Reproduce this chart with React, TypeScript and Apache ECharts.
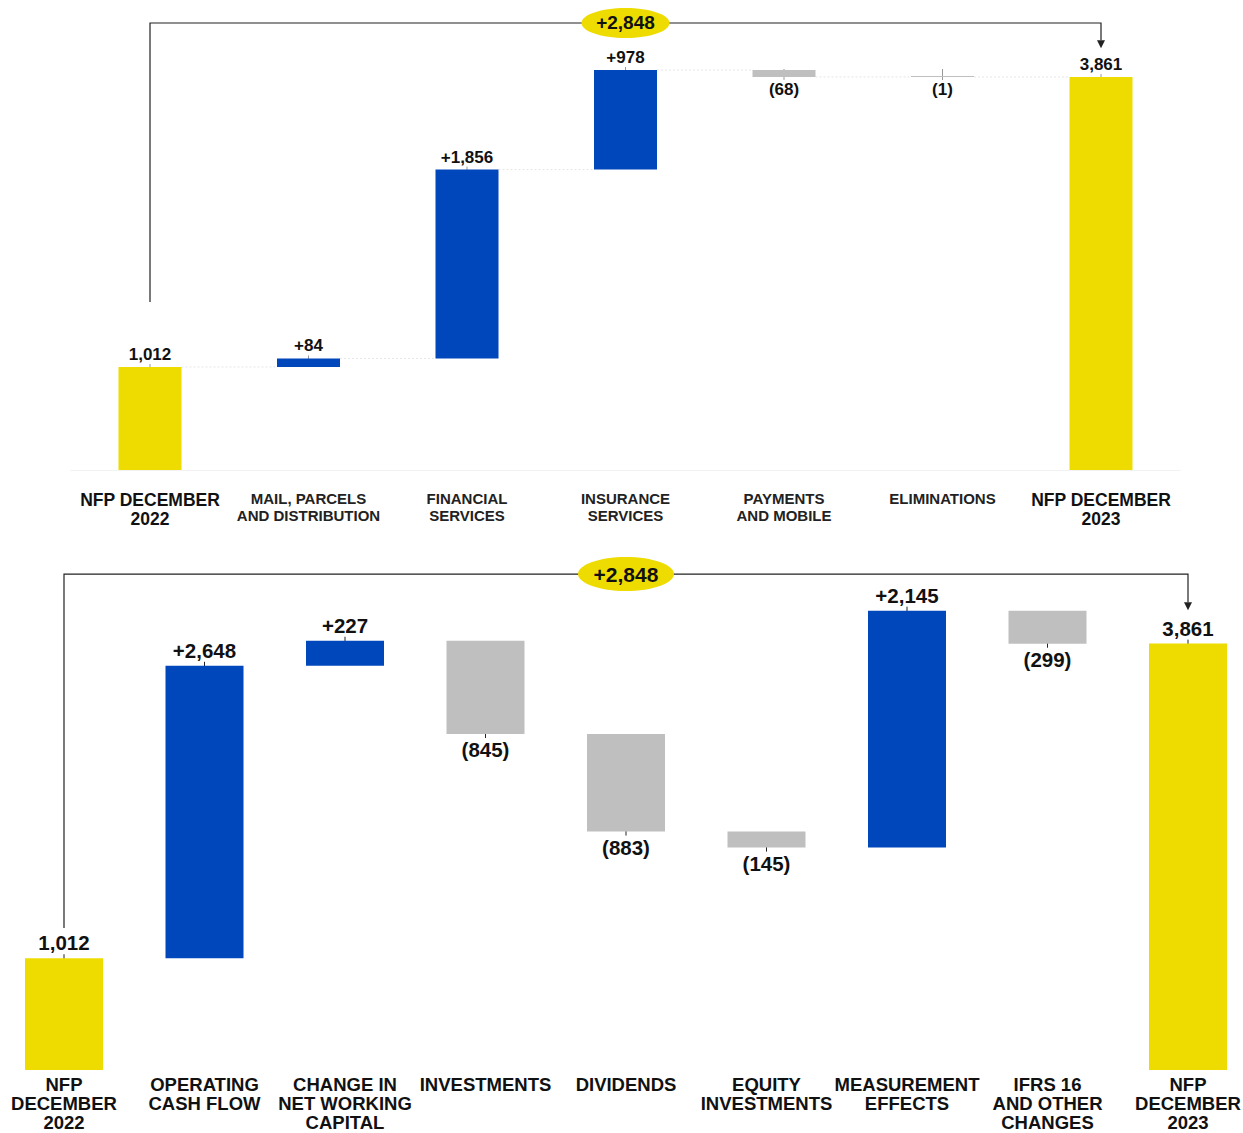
import React, { useEffect, useRef } from "react";
import * as echarts from "echarts";

// ---------- DATA ----------
const topCategories = [
  "NFP DECEMBER\n2022",
  "MAIL, PARCELS\nAND DISTRIBUTION",
  "FINANCIAL\nSERVICES",
  "INSURANCE\nSERVICES",
  "PAYMENTS\nAND MOBILE",
  "ELIMINATIONS",
  "NFP DECEMBER\n2023",
];
const topValues = [1012, 84, 1856, 978, -68, -1, 3861];
const topIsTotal = [true, false, false, false, false, false, true];
const topChangeLabel = "+2,848";

const bottomCategories = [
  "NFP\nDECEMBER\n2022",
  "OPERATING\nCASH FLOW",
  "CHANGE IN\nNET WORKING\nCAPITAL",
  "INVESTMENTS",
  "DIVIDENDS",
  "EQUITY\nINVESTMENTS",
  "MEASUREMENT\nEFFECTS",
  "IFRS 16\nAND OTHER\nCHANGES",
  "NFP\nDECEMBER\n2023",
];
const bottomValues = [1012, 2648, 227, -845, -883, -145, 2145, -299, 3861];
const bottomIsTotal = [true, false, false, false, false, false, false, false, true];
const bottomChangeLabel = "+2,848";

// ---------- STYLE ----------
const YELLOW = "#EEDC00";
const BLUE = "#0047BB";
const GREY = "#BFBFBF";
const FONT = "'Liberation Sans', Arial, sans-serif";
const PAD = 40; // chart canvas extends beyond the visible page on both sides

function waterfall(values: number[], isTotal: boolean[]) {
  let running = 0;
  const low: number[] = [];
  const high: number[] = [];
  const ends: number[] = [];
  values.forEach((v, i) => {
    if (isTotal[i]) {
      low.push(0);
      high.push(v);
      running = v;
    } else {
      const s = running;
      const e = running + v;
      low.push(Math.min(s, e));
      high.push(Math.max(s, e));
      running = e;
    }
    ends.push(running);
  });
  return { low, high, ends };
}

function fmt(v: number, total: boolean) {
  const s = Math.abs(v).toLocaleString("en-US");
  if (total) return s;
  return v >= 0 ? "+" + s : "(" + s + ")";
}

function colorOf(v: number, total: boolean) {
  if (total) return YELLOW;
  return v >= 0 ? BLUE : GREY;
}

type ChartCfg = {
  idx: number;
  values: number[];
  isTotal: boolean[];
  barWidth: number;
  labelSize: number;
  labelDist: number;
  tickUp: number;
  tickDown: number;
  tickColor: string;
  changeLabel: string;
  bracketStart: number;
  bracketTop: number;
  arrowTip: number;
  ellRx: number;
  ellRy: number;
  ellFont: number;
  connectors: boolean;
};

function buildSeries(c: ChartCfg) {
  const { low, high, ends } = waterfall(c.values, c.isTotal);
  const n = c.values.length;
  const series: any[] = [];
  series.push({
    type: "bar",
    xAxisIndex: c.idx,
    yAxisIndex: c.idx,
    stack: "s" + c.idx,
    barWidth: c.barWidth,
    itemStyle: { color: "transparent" },
    silent: true,
    data: low,
  });
  series.push({
    type: "bar",
    xAxisIndex: c.idx,
    yAxisIndex: c.idx,
    stack: "s" + c.idx,
    barWidth: c.barWidth,
    barMinHeight: 1,
    data: c.values.map((v, i) => ({
      value: high[i] - low[i],
      itemStyle: { color: colorOf(v, c.isTotal[i]) },
      label: {
        show: true,
        position: v < 0 && !c.isTotal[i] ? "bottom" : "top",
        distance: c.labelDist,
        formatter: () => fmt(v, c.isTotal[i]),
        fontFamily: FONT,
        fontWeight: "bold",
        fontSize: c.labelSize,
        color: "#111",
      },
    })),
  });
  // small leader ticks at the labelled edge
  series.push({
    type: "custom",
    xAxisIndex: c.idx,
    yAxisIndex: c.idx,
    clip: false,
    silent: true,
    data: c.values.map((v, i) => {
      const neg = v < 0 && !c.isTotal[i];
      return [i, neg ? low[i] : high[i], neg ? -1 : 1];
    }),
    renderItem: (params: any, api: any) => {
      const p = api.coord([api.value(0), api.value(1)]);
      const dir = api.value(2);
      const y1 = dir > 0 ? p[1] - c.tickUp : p[1] - c.tickDown;
      const y2 = dir > 0 ? p[1] + c.tickDown : p[1] + c.tickUp;
      return {
        type: "line",
        shape: { x1: p[0], y1, x2: p[0], y2 },
        style: { stroke: c.tickColor, lineWidth: 1 },
      };
    },
  });
  if (c.connectors) {
    series.push({
      type: "custom",
      xAxisIndex: c.idx,
      yAxisIndex: c.idx,
      clip: false,
      silent: true,
      data: ends.slice(0, n - 1).map((e, i) => [i, e]),
      renderItem: (params: any, api: any) => {
        const i = api.value(0);
        const e = api.value(1);
        const p1 = api.coord([i, e]);
        const p2 = api.coord([i + 1, e]);
        return {
          type: "line",
          shape: { x1: p1[0] + c.barWidth / 2, y1: p1[1], x2: p2[0] - c.barWidth / 2, y2: p2[1] },
          style: { stroke: "#e6e6e6", lineWidth: 1, lineDash: [2, 2] },
        };
      },
    });
  }
  // bracket with total change
  series.push({
    type: "custom",
    xAxisIndex: c.idx,
    yAxisIndex: c.idx,
    clip: false,
    silent: true,
    data: [[0, c.bracketStart]],
    renderItem: (params: any, api: any) => {
      const pStart = api.coord([0, c.bracketStart]);
      const pTL = api.coord([0, c.bracketTop]);
      const pTR = api.coord([n - 1, c.bracketTop]);
      const pTip = api.coord([n - 1, c.arrowTip]);
      const head = 8;
      const midX = (pTL[0] + pTR[0]) / 2;
      return {
        type: "group",
        children: [
          {
            type: "polyline",
            shape: { points: [pStart, pTL, pTR, [pTR[0], pTip[1] - head]] },
            style: { stroke: "#222", lineWidth: 1.2, fill: null },
          },
          {
            type: "polygon",
            shape: {
              points: [
                [pTip[0] - 4, pTip[1] - head],
                [pTip[0] + 4, pTip[1] - head],
                [pTip[0], pTip[1]],
              ],
            },
            style: { fill: "#222" },
          },
          {
            type: "ellipse",
            shape: { cx: midX, cy: pTL[1], rx: c.ellRx, ry: c.ellRy },
            style: { fill: YELLOW },
          },
          {
            type: "text",
            x: midX,
            y: pTL[1],
            style: {
              text: c.changeLabel,
              fontFamily: FONT,
              fontWeight: "bold",
              fontSize: c.ellFont,
              fill: "#111",
              align: "center",
              verticalAlign: "middle",
            },
          },
        ],
      };
    },
  });
  return series;
}

export default function App() {
  const ref = useRef<HTMLDivElement>(null);
  useEffect(() => {
    if (!ref.current) return;
    const chart = echarts.init(ref.current, null, { renderer: "svg" });

    const topSeries = buildSeries({
      idx: 0,
      values: topValues,
      isTotal: topIsTotal,
      barWidth: 63,
      labelSize: 17,
      labelDist: 4,
      tickUp: 3,
      tickDown: 8,
      tickColor: "#999",
      changeLabel: topChangeLabel,
      bracketStart: 1651,
      bracketTop: 4392,
      arrowTip: 4145,
      ellRx: 44,
      ellRy: 15,
      ellFont: 19,
      connectors: true,
    });
    const bottomSeries = buildSeries({
      idx: 1,
      values: bottomValues,
      isTotal: bottomIsTotal,
      barWidth: 78,
      labelSize: 20.5,
      labelDist: 5,
      tickUp: 4,
      tickDown: 10,
      tickColor: "#222",
      changeLabel: bottomChangeLabel,
      bracketStart: 1286,
      bracketTop: 4491,
      arrowTip: 4163,
      ellRx: 48,
      ellRy: 17,
      ellFont: 21,
      connectors: false,
    });

    const topLabelFormatter = (val: string) => {
      const big = val.startsWith("NFP");
      return val
        .split("\n")
        .map((l) => (big ? "{big|" + l + "}" : "{small|" + l + "}"))
        .join("\n");
    };

    chart.setOption({
      animation: false,
      backgroundColor: "#ffffff",
      grid: [
        { left: 70.75 + PAD, width: 1109.5, top: 12, height: 458, outerBoundsMode: "none" },
        { left: -6.25 + PAD, width: 1264.5, top: 562, height: 508, outerBoundsMode: "none" },
      ],
      xAxis: [
        {
          type: "category",
          gridIndex: 0,
          data: topCategories,
          axisTick: { show: false },
          axisLine: { show: true, lineStyle: { color: "#f2f2f2" } },
          axisLabel: {
            interval: 0,
            margin: 20,
            hideOverlap: false,
            formatter: topLabelFormatter,
            rich: {
              big: {
                fontFamily: FONT,
                fontWeight: "bold",
                fontSize: 17.5,
                lineHeight: 19,
                color: "#111",
                align: "center",
              },
              small: {
                fontFamily: FONT,
                fontWeight: "bold",
                fontSize: 15,
                lineHeight: 17,
                color: "#222",
                align: "center",
              },
            },
          },
        },
        {
          type: "category",
          gridIndex: 1,
          data: bottomCategories,
          axisTick: { show: false },
          axisLine: { show: false },
          axisLabel: {
            interval: 0,
            margin: 5,
            hideOverlap: false,
            fontFamily: FONT,
            fontWeight: "bold",
            fontSize: 18.5,
            lineHeight: 19,
            color: "#111",
          },
        },
      ],
      yAxis: [
        { type: "value", gridIndex: 0, min: 0, max: 4500, show: false, splitLine: { show: false } },
        { type: "value", gridIndex: 1, min: 0, max: 4600, show: false, splitLine: { show: false } },
      ],
      series: [...topSeries, ...bottomSeries],
    });
    return () => chart.dispose();
  }, []);
  return (
    <div
      style={{
        position: "absolute",
        left: 0,
        top: 0,
        width: 1243,
        height: 1133,
        overflow: "hidden",
        background: "#ffffff",
      }}
    >
      <div
        ref={ref}
        style={{ position: "absolute", left: -PAD, top: 0, width: 1243 + 2 * PAD, height: 1133 }}
      />
    </div>
  );
}
